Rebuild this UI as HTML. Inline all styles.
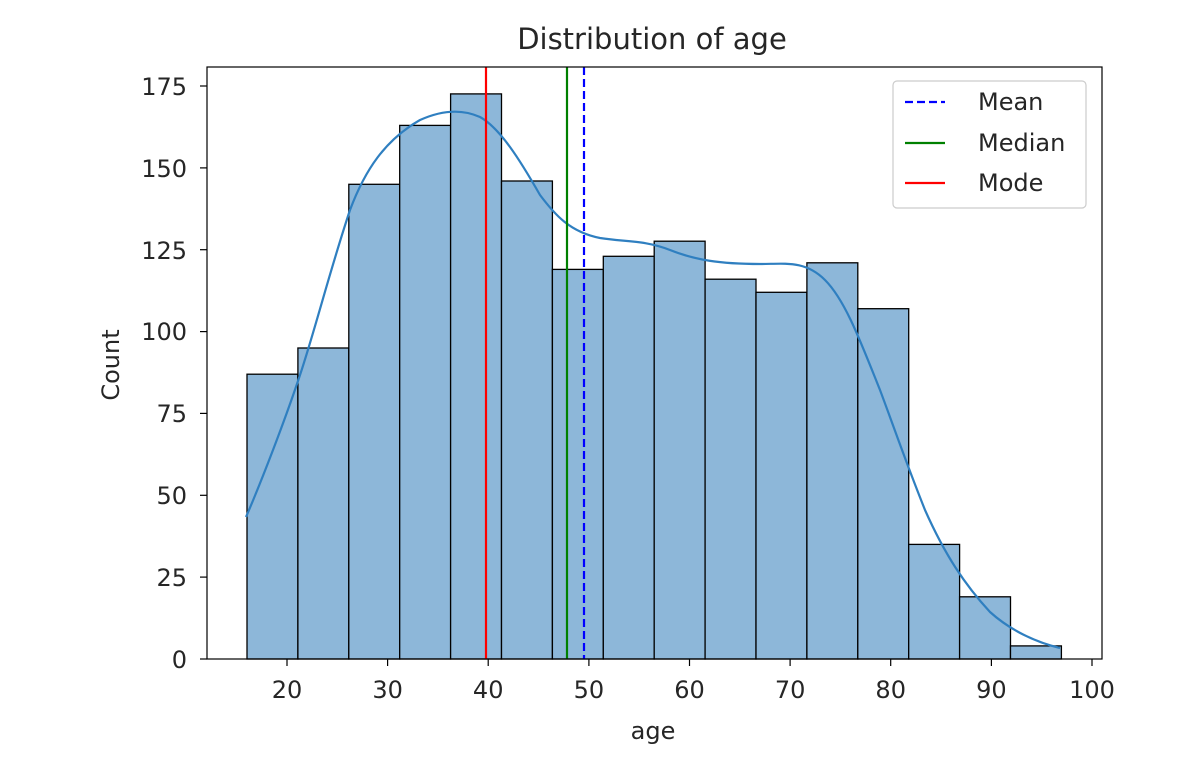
<!DOCTYPE html>
<html><head><meta charset="utf-8"><style>body{margin:0;background:#fff}svg{display:block}text{font-family:"DejaVu Sans","Liberation Sans",sans-serif;fill:#262626}</style></head>
<body>
<svg width="1184" height="772" viewBox="0 0 1184 772" xmlns="http://www.w3.org/2000/svg">
<rect width="1184" height="772" fill="#fff"/>
<g fill="#8db7d9" stroke="#000" stroke-width="1.3">
<rect x="247" y="374.2" width="50.9" height="284.8"/>
<rect x="297.9" y="348" width="50.9" height="311"/>
<rect x="348.8" y="184.3" width="50.9" height="474.7"/>
<rect x="399.7" y="125.4" width="50.9" height="533.6"/>
<rect x="450.6" y="93.9" width="50.9" height="565.1"/>
<rect x="501.5" y="181" width="50.9" height="478"/>
<rect x="552.4" y="269.4" width="50.9" height="389.6"/>
<rect x="603.3" y="256.3" width="50.9" height="402.7"/>
<rect x="654.2" y="241.2" width="50.9" height="417.8"/>
<rect x="705.1" y="279.2" width="50.9" height="379.8"/>
<rect x="756" y="292.3" width="50.9" height="366.7"/>
<rect x="806.9" y="262.8" width="50.9" height="396.2"/>
<rect x="857.8" y="308.7" width="50.9" height="350.3"/>
<rect x="908.7" y="544.4" width="50.9" height="114.6"/>
<rect x="959.6" y="596.8" width="50.9" height="62.2"/>
<rect x="1010.5" y="645.9" width="50.9" height="13.1"/>
</g>
<path d="M246,517 C262,480 285,420 300,375 C315,330 330,270 350,210 C365,170 385,140 420,120 C440,111 460,108 480,117 C500,128 520,160 540,195 C555,215 570,232 600,238 C625,242 645,240 670,250 C695,260 720,264 760,264 C785,264 805,260 825,280 C845,300 860,340 880,390 C895,430 905,460 925,510 C945,555 965,585 990,612 C1010,630 1035,642 1060,648" fill="none" stroke="#2f7fc0" stroke-width="2.2"/>
<line x1="584" y1="67" x2="584" y2="659" stroke="#0000ff" stroke-width="2.2" stroke-dasharray="8,4"/>
<line x1="567" y1="67" x2="567" y2="659" stroke="#008000" stroke-width="2.2"/>
<line x1="486" y1="67" x2="486" y2="659" stroke="#ff0000" stroke-width="2.2"/>
<rect x="207" y="67" width="895" height="592" fill="none" stroke="#000" stroke-width="1.2"/>
<g stroke="#000" stroke-width="1.2">
<line x1="287" y1="659" x2="287" y2="666"/><line x1="387.6" y1="659" x2="387.6" y2="666"/><line x1="488.2" y1="659" x2="488.2" y2="666"/><line x1="588.9" y1="659" x2="588.9" y2="666"/><line x1="689.5" y1="659" x2="689.5" y2="666"/><line x1="790.1" y1="659" x2="790.1" y2="666"/><line x1="890.7" y1="659" x2="890.7" y2="666"/><line x1="991.4" y1="659" x2="991.4" y2="666"/><line x1="1092" y1="659" x2="1092" y2="666"/>
<line x1="200" y1="659" x2="207" y2="659"/><line x1="200" y1="577.1" x2="207" y2="577.1"/><line x1="200" y1="495.3" x2="207" y2="495.3"/><line x1="200" y1="413.4" x2="207" y2="413.4"/><line x1="200" y1="331.6" x2="207" y2="331.6"/><line x1="200" y1="249.7" x2="207" y2="249.7"/><line x1="200" y1="167.9" x2="207" y2="167.9"/><line x1="200" y1="86" x2="207" y2="86"/>
</g>
<g font-size="24" text-anchor="middle">
<text x="287" y="698">20</text><text x="387.6" y="698">30</text><text x="488.2" y="698">40</text><text x="588.9" y="698">50</text><text x="689.5" y="698">60</text><text x="790.1" y="698">70</text><text x="890.7" y="698">80</text><text x="991.4" y="698">90</text><text x="1092" y="698">100</text>
</g>
<g font-size="24" text-anchor="end">
<text x="187" y="668">0</text><text x="187" y="586">25</text><text x="187" y="504">50</text><text x="187" y="422">75</text><text x="187" y="340">100</text><text x="187" y="259">125</text><text x="187" y="177">150</text><text x="187" y="95">175</text>
</g>
<text x="653" y="739" font-size="24" text-anchor="middle">age</text>
<text x="119" y="365" font-size="24" text-anchor="middle" transform="rotate(-90 119 365)">Count</text>
<text x="652" y="49" font-size="29" text-anchor="middle">Distribution of age</text>
<rect x="893" y="81" width="193" height="127" rx="4" fill="#fff" fill-opacity="0.8" stroke="#ccc" stroke-width="1.2"/>
<line x1="905" y1="102" x2="945" y2="102" stroke="#0000ff" stroke-width="2.2" stroke-dasharray="8,4"/>
<line x1="905" y1="143" x2="945" y2="143" stroke="#008000" stroke-width="2.2"/>
<line x1="905" y1="183" x2="945" y2="183" stroke="#ff0000" stroke-width="2.2"/>
<g font-size="24"><text x="978" y="110">Mean</text><text x="978" y="151">Median</text><text x="978" y="191">Mode</text></g>
</svg>
</body></html>
